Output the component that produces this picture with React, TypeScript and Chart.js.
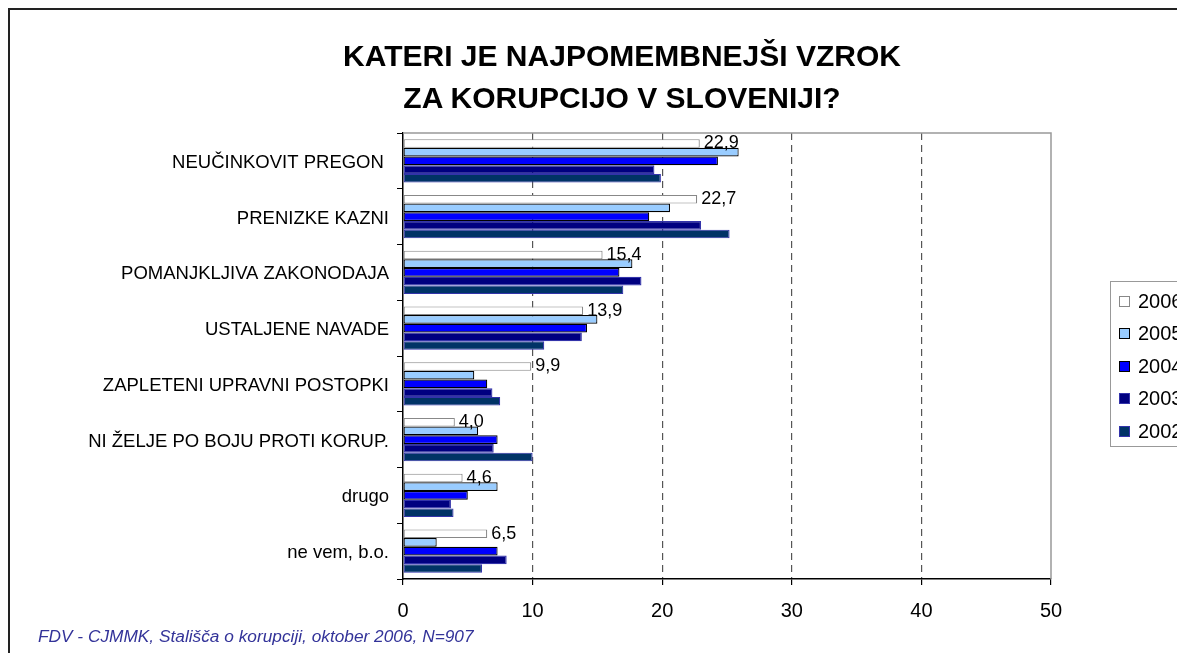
import React, { useEffect, useRef } from "react";
import { Chart, registerables } from "chart.js";

Chart.register(...registerables);

const categories = [
  "NEUČINKOVIT PREGON ",
  "PRENIZKE KAZNI",
  "POMANJKLJIVA ZAKONODAJA",
  "USTALJENE NAVADE",
  "ZAPLETENI UPRAVNI POSTOPKI",
  "NI ŽELJE PO BOJU PROTI KORUP.",
  "drugo",
  "ne vem, b.o.",
];

const values2006 = [22.9, 22.7, 15.4, 13.9, 9.9, 4.0, 4.6, 6.5];
const values2005 = [25.9, 20.6, 17.7, 15.0, 5.5, 5.8, 7.3, 2.6];
const values2004 = [24.3, 19.0, 16.7, 14.2, 6.5, 7.3, 5.0, 7.3];
const values2003 = [19.4, 23.0, 18.4, 13.8, 6.9, 7.0, 3.7, 8.0];
const values2002 = [19.9, 25.2, 17.0, 10.9, 7.5, 10.0, 3.9, 6.1];

const seriesNames = ["2006", "2005", "2004", "2003", "2002"];
const fillColors = ["#FFFFFF", "#99CCFF", "#0000FF", "#000080", "#003366"];
const borderColors = ["#888888", "#000000", "#000000", "#3333AA", "#3333AA"];

const xTicks = [0, 10, 20, 30, 40, 50];

const title1 = "KATERI JE NAJPOMEMBNEJŠI VZROK";
const title2 = "ZA KORUPCIJO V SLOVENIJI?";
const footer = "FDV - CJMMK, Stališča o korupciji, oktober 2006, N=907";

const W = 1250;
const H = 680;
const AREA_LEFT = 393;
const AREA_TOP = 123;
const AREA_RIGHT = 1041;
const AREA_BOTTOM = 569;
const X_AXIS_H = 40;
const FONT = "'Liberation Sans', Arial, sans-serif";

const frameBorder = {
  id: "frameBorder",
  beforeDatasetsDraw(chart: any) {
    const { ctx, chartArea } = chart;
    ctx.save();
    ctx.strokeStyle = "#999999";
    ctx.lineWidth = 1.5;
    ctx.beginPath();
    ctx.moveTo(chartArea.left, chartArea.top);
    ctx.lineTo(chartArea.right, chartArea.top);
    ctx.lineTo(chartArea.right, chartArea.bottom);
    ctx.stroke();
    ctx.restore();
  },
};

const valueLabels = {
  id: "valueLabels",
  afterDatasetsDraw(chart: any) {
    const { ctx } = chart;
    const meta = chart.getDatasetMeta(0);
    ctx.save();
    ctx.font = `18px ${FONT}`;
    ctx.fillStyle = "#000";
    ctx.textAlign = "left";
    ctx.textBaseline = "middle";
    meta.data.forEach((bar: any, i: number) => {
      const v = values2006[i];
      ctx.fillText(v.toFixed(1).replace(".", ","), bar.x + 4, bar.y);
    });
    ctx.restore();
  },
};

export default function App() {
  const ref = useRef<HTMLCanvasElement | null>(null);

  useEffect(() => {
    if (!ref.current) return;
    const allValues = [values2006, values2005, values2004, values2003, values2002];
    const chart = new Chart(ref.current, {
      type: "bar",
      data: {
        labels: categories,
        datasets: allValues.map((vals, i) => ({
          label: seriesNames[i],
          data: vals,
          backgroundColor: fillColors[i],
          borderColor: borderColors[i],
          borderWidth: 1.2,
          borderSkipped: false,
          categoryPercentage: 0.78,
          barPercentage: 1.0,
        })),
      },
      options: {
        indexAxis: "y",
        responsive: false,
        animation: false,
        devicePixelRatio: 1,
        layout: {
          padding: {
            left: 0,
            top: AREA_TOP,
            right: W - AREA_RIGHT,
            bottom: H - AREA_BOTTOM - X_AXIS_H,
          },
        },
        plugins: {
          legend: { display: false },
          title: { display: false },
          tooltip: { enabled: false },
        },
        scales: {
          x: {
            type: "linear",
            min: xTicks[0],
            max: xTicks[xTicks.length - 1],
            afterBuildTicks: (scale: any) => {
              scale.ticks = xTicks.map((v) => ({ value: v }));
            },
            afterFit: (scale: any) => {
              scale.height = X_AXIS_H;
            },
            ticks: {
              color: "#000",
              font: { family: FONT, size: 20 },
              padding: 14,
              maxRotation: 0,
            },
            grid: {
              color: (c: any) =>
                c.tick && (c.tick.value === 0 || c.tick.value === 50) ? "rgba(0,0,0,0)" : "#555555",
              lineWidth: 1.2,
              tickColor: "#000",
              tickLength: 6,
              tickBorderDash: [],
            },
            border: { display: true, color: "#000", width: 1.5, dash: [7, 5] },
          },
          y: {
            type: "category",
            afterFit: (scale: any) => {
              scale.width = AREA_LEFT;
            },
            ticks: {
              color: "#000",
              font: { family: FONT, size: 18.5 },
              padding: 8,
              labelOffset: 2,
            },
            grid: {
              drawOnChartArea: false,
              offset: true,
              color: "#000",
              tickLength: 6,
            },
            border: { display: true, color: "#000", width: 1.5 },
          },
        },
      },
      plugins: [frameBorder, valueLabels],
    } as any);
    return () => chart.destroy();
  }, []);

  return (
    <div
      style={{
        position: "relative",
        width: 1270,
        height: 700,
        border: "2px solid #222",
        boxSizing: "border-box",
        background: "#fff",
        fontFamily: FONT,
      }}
    >
      <canvas
        ref={ref}
        width={W}
        height={H}
        style={{ position: "absolute", left: 0, top: 0, width: W, height: H }}
      />
      <div
        style={{
          position: "absolute",
          left: 0,
          top: 25,
          width: 1224,
          textAlign: "center",
          fontWeight: "bold",
          fontSize: 30,
          lineHeight: "42px",
          color: "#000",
        }}
      >
        <div>{title1}</div>
        <div>{title2}</div>
      </div>
      <div
        style={{
          position: "absolute",
          left: 1100,
          top: 271,
          width: 130,
          height: 166,
          border: "1px solid #999",
          boxSizing: "border-box",
          paddingTop: 3,
        }}
      >
        {seriesNames.map((name, i) => (
          <div
            key={name}
            style={{ display: "flex", alignItems: "center", height: 32.5, paddingLeft: 8 }}
          >
            <span
              style={{
                display: "inline-block",
                width: 11,
                height: 11,
                boxSizing: "border-box",
                background: fillColors[i],
                border: `1px solid ${borderColors[i]}`,
                marginRight: 8,
              }}
            />
            <span style={{ fontSize: 20, color: "#000" }}>{name}</span>
          </div>
        ))}
      </div>
      <div
        style={{
          position: "absolute",
          left: 28,
          top: 616,
          fontSize: 17.3,
          fontStyle: "italic",
          color: "#333399",
          whiteSpace: "nowrap",
        }}
      >
        {footer}
      </div>
    </div>
  );
}
